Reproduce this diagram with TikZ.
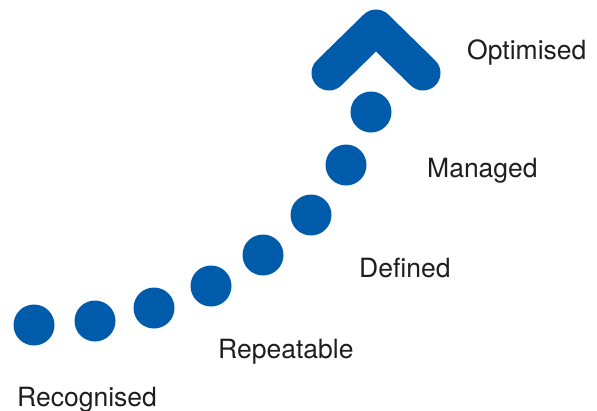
\documentclass[tikz,border=0pt]{standalone}
\usepackage{fontspec}
\setmainfont{TeX Gyre Heros}
\definecolor{stepblue}{RGB}{0,91,170}
\definecolor{labelgrey}{RGB}{30,30,30}
\tikzset{
  dot/.style={circle, fill=stepblue, minimum size=41pt, inner sep=0pt},
  lbl/.style={anchor=base west, inner sep=0pt, text=labelgrey, font=\fontsize{26.5}{30}\selectfont}
}

\begin{document}
\begin{tikzpicture}[x=1pt,y=-1pt]
        \useasboundingbox (0,0) rectangle (597,410);
        % dots along the curve
        \node[dot] (s1) at (34,325) {};
        \node[dot] (s2) at (95,321) {};
        \node[dot] (s3) at (154,308) {};
        \node[dot] (s4) at (211,286) {};
        \node[dot] (s5) at (263,255) {};
        \node[dot] (s6) at (311,215) {};
        \node[dot] (s7) at (346,165) {};
        \node[dot] (s8) at (371,112) {};

        % chevron
        \coordinate (cl) at (329,73);
        \coordinate (ctop) at (376,27);
        \coordinate (cr) at (423,73);
        \draw[stepblue, line width=35pt, line cap=round, line join=round] (cl) -- (ctop) -- (cr);

        % labels
        \node[lbl] (optimised) at (467,59) {Optimised};
        \node[lbl] (managed) at (427,177) {Managed};
        \node[lbl] (defined) at (359,277) {Defined};
        \node[lbl] (repeatable) at (218,358) {Repeatable};
        \node[lbl] (recognised) at (17,406) {Recognised};
\end{tikzpicture}
\end{document}
